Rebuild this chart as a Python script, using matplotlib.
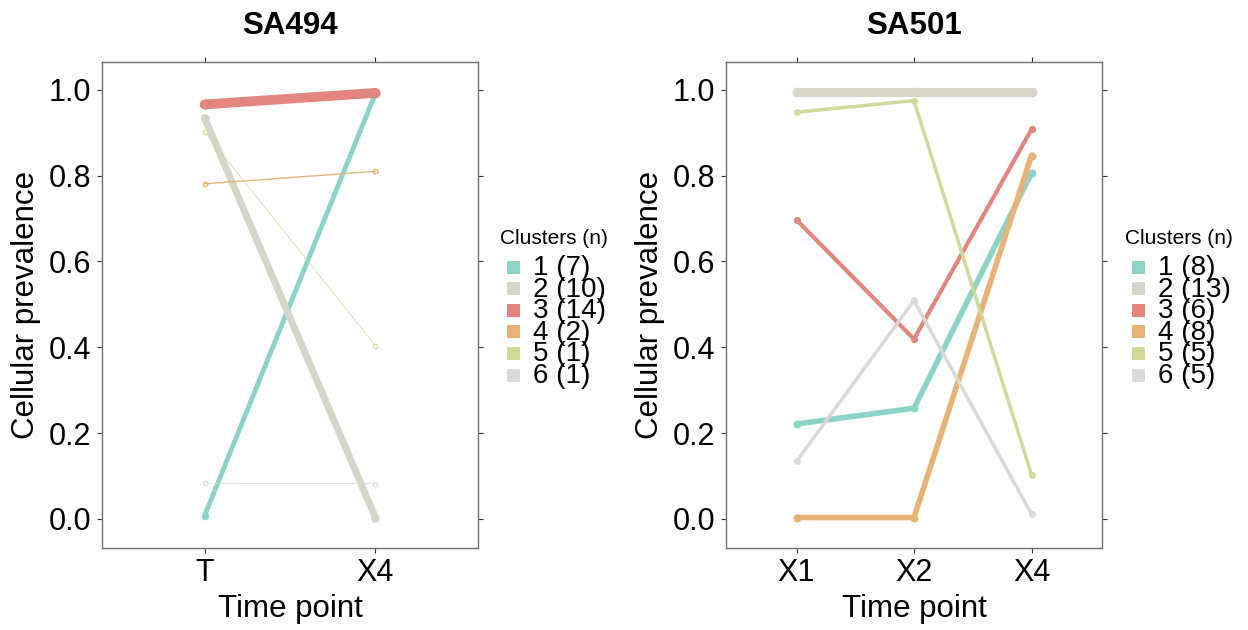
import numpy as np
import matplotlib
matplotlib.use("Agg")
import matplotlib.pyplot as plt
from matplotlib.patches import Rectangle

plt.rcParams["font.family"] = ["Liberation Sans", "DejaVu Sans"]

COLORS = ["#8DD3C7", "#D7D4C8", "#E3867F", "#E5B476", "#D0D99A", "#D9D9D9"]
CLUSTERS = ["1", "2", "3", "4", "5", "6"]

# SA494
SA494_TIMES = ["T", "X4"]
SA494_N = [7, 10, 14, 2, 1, 1]
SA494_VALUES = [
    [0.007, 0.992],
    [0.935, 0.003],
    [0.966, 0.993],
    [0.781, 0.810],
    [0.902, 0.403],
    [0.083, 0.082],
]

# SA501
SA501_TIMES = ["X1", "X2", "X4"]
SA501_N = [8, 13, 6, 8, 5, 5]
SA501_VALUES = [
    [0.221, 0.258, 0.806],
    [0.994, 0.994, 0.994],
    [0.697, 0.419, 0.908],
    [0.003, 0.003, 0.847],
    [0.948, 0.975, 0.103],
    [0.134, 0.509, 0.011],
]

W, H = 1248, 630
fig = plt.figure(figsize=(W / 100, H / 100), dpi=100)


def fx(px):
    return px / W


def fy(py):
    return 1 - py / H


def legend(x0, ns):
    # manual legend, positions in pixels
    fig.text(fx(x0), fy(239), "Clusters (n)", fontsize=15, ha="left", va="center")
    for k in range(len(CLUSTERS)):
        yc = 267 + 21.6 * k
        fig.patches.append(Rectangle((fx(x0 + 7), fy(yc + 6.5)), 13 / W, 13 / H,
                                     transform=fig.transFigure, facecolor=COLORS[k],
                                     edgecolor="none"))
        fig.text(fx(x0 + 33), fy(yc + 1), f"{CLUSTERS[k]} ({ns[k]})", fontsize=20,
                 ha="left", va="center")


def panel(rect, title, times, ns, values, legend_x):
    ax = fig.add_axes([fx(rect[0]), fy(rect[3]), (rect[2] - rect[0]) / W, (rect[3] - rect[1]) / H])
    x = np.arange(1, len(times) + 1)
    for k in range(len(values)):
        ax.plot(x, values[k], color=COLORS[k], lw=0.5 * ns[k], solid_capstyle="round",
                solid_joinstyle="round", marker="o", ms=3.2, mfc="none",
                mec=COLORS[k], mew=0.5 + 0.25 * ns[k])
    ax.set_xlim(0.4, len(times) + 0.6)
    ax.set_ylim(-0.068, 1.065)
    ax.set_xticks(x)
    ax.set_xticklabels(times)
    ticks = [0, 0.2, 0.4, 0.6, 0.8, 1.0]
    ax.set_yticks(ticks)
    ax.set_yticklabels([f"{v:.1f}" for v in ticks])
    ax.tick_params(direction="out", length=3.5, width=0.8, color="#333333",
                   labelsize=22, top=True, right=True, pad=4)
    for s in ax.spines.values():
        s.set_color("#707070")
        s.set_linewidth(1)
    ax.set_xlabel("Time point", fontsize=22.5, labelpad=4)
    ax.set_ylabel("Cellular prevalence", fontsize=22.5, labelpad=6)
    ax.set_title(title, fontsize=22.5, fontweight="bold", pad=20)
    legend(legend_x, ns)
    return ax


panel((102, 62, 478, 548), "SA494", SA494_TIMES, SA494_N, SA494_VALUES, 500)
panel((726, 62, 1102, 548), "SA501", SA501_TIMES, SA501_N, SA501_VALUES, 1125)

fig.savefig("out.png", dpi=100)
